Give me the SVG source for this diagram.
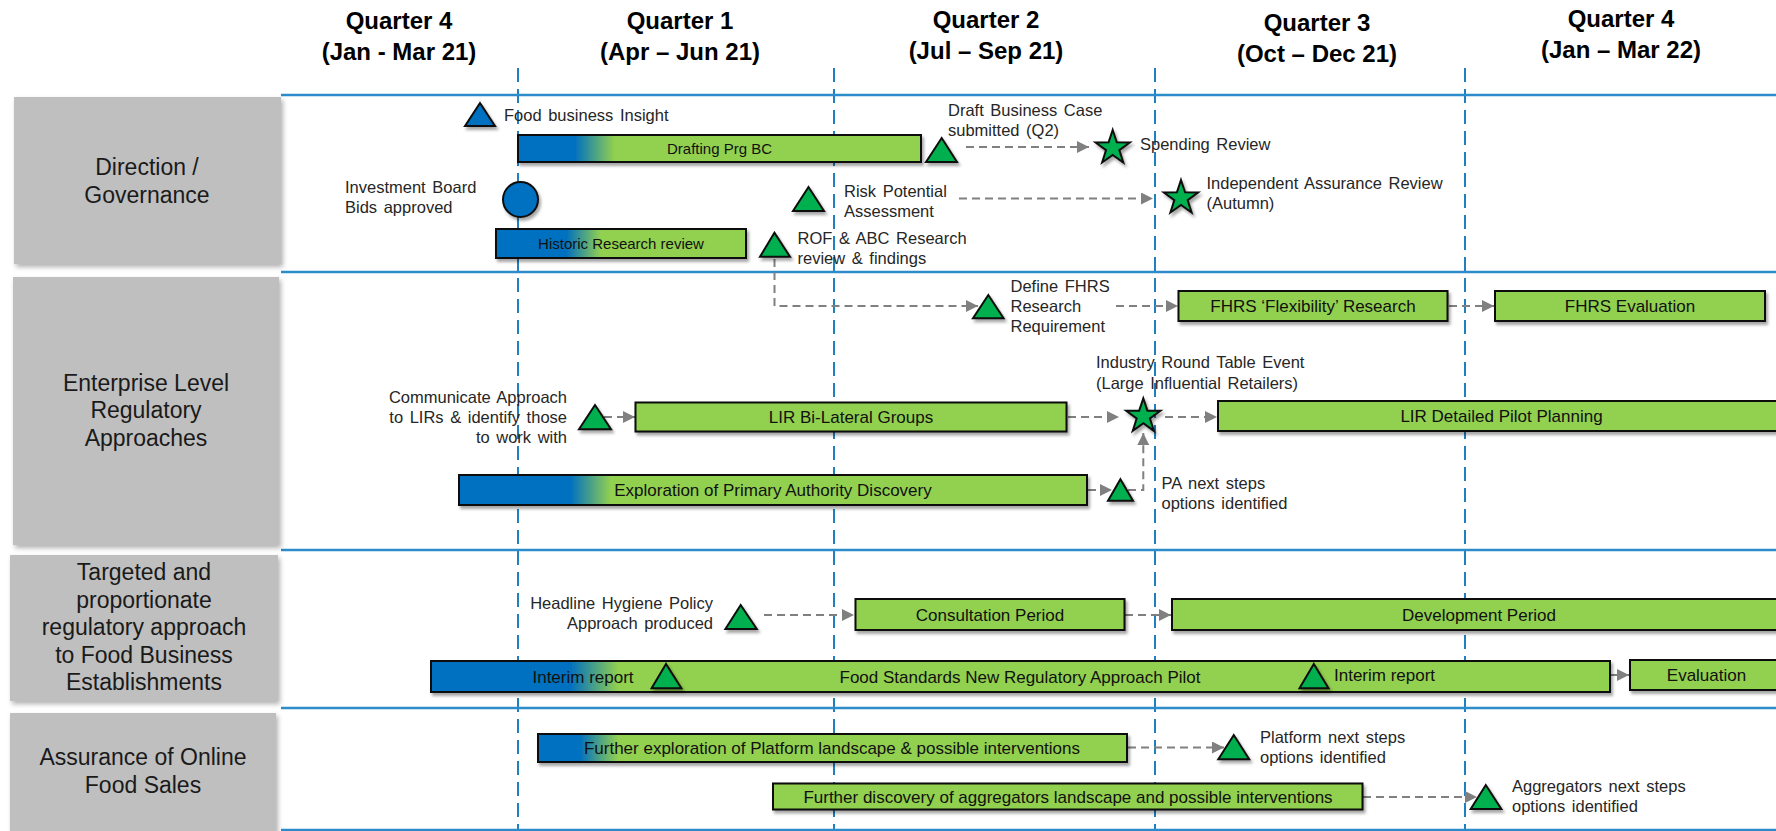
<svg xmlns="http://www.w3.org/2000/svg" width="1776" height="831" viewBox="0 0 1776 831">
<style>
text{font-family:"Liberation Sans",Arial,sans-serif}
.hdr{font-size:24px;font-weight:bold;text-anchor:middle;fill:#000}
.rowbox{fill:#BFBFBF;filter:url(#shb)}
.rowt{font-size:23px;text-anchor:middle;fill:#1a1a1a}
.bar{stroke:#0d0d0d;stroke-width:2;filter:url(#sh)}
.g{fill:#92D050}
.bt{font-size:17px;text-anchor:middle;fill:#111}
.bt15{font-size:15px;text-anchor:middle;fill:#111}
.tri{fill:#00B050;stroke:#0d0d0d;stroke-width:2;filter:url(#sh)}
.btri{fill:#0070C0;stroke:#0d0d0d;stroke-width:2;filter:url(#sh)}
.lbl{font-size:16.5px;fill:#262626;word-spacing:2px}
.lblr{font-size:16.5px;fill:#262626;word-spacing:2px;text-anchor:end}
.conn{fill:none;stroke:#808080;stroke-width:2;stroke-dasharray:8 5;marker-end:url(#arr)}
.vline{stroke:#1f7fc0;stroke-width:2;stroke-dasharray:14 7}
.hline{stroke:#2c8bc9;stroke-width:2.5}
</style>
<defs>
<filter id="sh" x="-10%" y="-20%" width="130%" height="160%"><feDropShadow dx="2" dy="3" stdDeviation="1.5" flood-color="#000" flood-opacity="0.35"/></filter>
<filter id="shb" x="-10%" y="-10%" width="130%" height="130%"><feDropShadow dx="2" dy="3" stdDeviation="2.5" flood-color="#000" flood-opacity="0.3"/></filter>
<marker id="arr" markerUnits="userSpaceOnUse" markerWidth="12" markerHeight="12" refX="12" refY="6" orient="auto" viewBox="0 0 12 12"><path d="M0,0 L12,6 L0,12 z" fill="#808080"/></marker>
<path id="star" d="M0,-18 L4.11,-5.66 L17.12,-5.56 L6.66,2.16 L10.58,14.56 L0,7 L-10.58,14.56 L-6.66,2.16 L-17.12,-5.56 L-4.11,-5.66 Z"/>
<linearGradient id="gDraft"><stop offset="0" stop-color="#0070C0"/><stop offset="0.14" stop-color="#0070C0"/><stop offset="0.24" stop-color="#92D050"/><stop offset="1" stop-color="#92D050"/></linearGradient>
<linearGradient id="gHist"><stop offset="0" stop-color="#0070C0"/><stop offset="0.28" stop-color="#0070C0"/><stop offset="0.42" stop-color="#92D050"/><stop offset="1" stop-color="#92D050"/></linearGradient>
<linearGradient id="gExpl"><stop offset="0" stop-color="#0070C0"/><stop offset="0.177" stop-color="#0070C0"/><stop offset="0.242" stop-color="#92D050"/><stop offset="1" stop-color="#92D050"/></linearGradient>
<linearGradient id="gPilot"><stop offset="0" stop-color="#0070C0"/><stop offset="0.118" stop-color="#0070C0"/><stop offset="0.159" stop-color="#92D050"/><stop offset="1" stop-color="#92D050"/></linearGradient>
<linearGradient id="gPlat"><stop offset="0" stop-color="#0070C0"/><stop offset="0.071" stop-color="#0070C0"/><stop offset="0.136" stop-color="#92D050"/><stop offset="1" stop-color="#92D050"/></linearGradient>
</defs>
<rect width="1776" height="831" fill="#fff"/>

<g id="headers">
<text class="hdr" x="399" y="29">Quarter 4</text><text class="hdr" x="399" y="60">(Jan - Mar 21)</text>
<text class="hdr" x="680" y="29">Quarter 1</text><text class="hdr" x="680" y="60">(Apr – Jun 21)</text>
<text class="hdr" x="986" y="28">Quarter 2</text><text class="hdr" x="986" y="59">(Jul – Sep 21)</text>
<text class="hdr" x="1317" y="31">Quarter 3</text><text class="hdr" x="1317" y="62">(Oct – Dec 21)</text>
<text class="hdr" x="1621" y="27">Quarter 4</text><text class="hdr" x="1621" y="58">(Jan – Mar 22)</text>
</g>

<g id="grid">
<line class="vline" x1="518" y1="68" x2="518" y2="831"/>
<line class="vline" x1="834" y1="68" x2="834" y2="831"/>
<line class="vline" x1="1155" y1="68" x2="1155" y2="831"/>
<line class="vline" x1="1465" y1="68" x2="1465" y2="831"/>
<line class="hline" x1="281" y1="95" x2="1776" y2="95"/>
<line class="hline" x1="281" y1="272" x2="1776" y2="272"/>
<line class="hline" x1="281" y1="550" x2="1776" y2="550"/>
<line class="hline" x1="281" y1="708" x2="1776" y2="708"/>
<line class="hline" x1="281" y1="830" x2="1776" y2="830"/>
</g>

<g id="row-direction">
<rect class="rowbox" x="14" y="97" width="267" height="167"/>
<text class="rowt" x="147" y="175">Direction /</text>
<text class="rowt" x="147" y="203">Governance</text>
</g>
<g id="row-enterprise">
<rect class="rowbox" x="13" y="277" width="266" height="268"/>
<text class="rowt" x="146" y="391">Enterprise Level</text>
<text class="rowt" x="146" y="418">Regulatory</text>
<text class="rowt" x="146" y="446">Approaches</text>
</g>
<g id="row-targeted">
<rect class="rowbox" x="10" y="555" width="268" height="146"/>
<text class="rowt" x="144" y="580">Targeted and</text>
<text class="rowt" x="144" y="608">proportionate</text>
<text class="rowt" x="144" y="635">regulatory approach</text>
<text class="rowt" x="144" y="663">to Food Business</text>
<text class="rowt" x="144" y="690">Establishments</text>
</g>
<g id="row-online">
<rect class="rowbox" x="10" y="713" width="266" height="125"/>
<text class="rowt" x="143" y="765">Assurance of Online</text>
<text class="rowt" x="143" y="793">Food Sales</text>
</g>

<g id="connectors">
<path class="conn" d="M966,147 H1089"/>
<path class="conn" d="M959,198.5 H1153"/>
<path class="conn" d="M774.5,259 V306 H978"/>
<path class="conn" d="M1116,306 H1178"/>
<path class="conn" d="M1449,306 H1494"/>
<path class="conn" d="M604,417 H635"/>
<path class="conn" d="M1068,417 H1119"/>
<path class="conn" d="M1165,417 H1217"/>
<path class="conn" d="M1088,490 H1112"/>
<path class="conn" d="M1128,490 H1143.3 V433"/>
<path class="conn" d="M764,615 H854"/>
<path class="conn" d="M1125,615 H1171"/>
<path class="conn" d="M1611,675 H1629"/>
<path class="conn" d="M1128,747.5 H1224"/>
<path class="conn" d="M1363,797 H1477"/>
</g>

<g id="food-business-insight">
<polygon class="btri" points="480,103 465,126 495,126"/>
<text class="lbl" x="504" y="121">Food business Insight</text>
</g>
<g id="drafting-prg-bc">
<rect class="bar" fill="url(#gDraft)" x="518" y="135" width="403" height="27"/>
<text class="bt15" x="719.5" y="154">Drafting Prg BC</text>
</g>
<g id="draft-business-case">
<polygon class="tri" points="941.7,138 926,162 957,162"/>
<text class="lbl" x="948" y="116">Draft Business Case</text>
<text class="lbl" x="948" y="136">submitted (Q2)</text>
</g>
<g id="spending-review">
<use href="#star" x="1112.7" y="148" class="tri"/>
<text class="lbl" x="1140" y="150">Spending Review</text>
</g>
<g id="investment-board">
<circle cx="520.5" cy="199.5" r="17.5" fill="#0070C0" stroke="#0d0d0d" stroke-width="2" filter="url(#sh)"/>
<text class="lbl" x="345" y="193">Investment Board</text>
<text class="lbl" x="345" y="213">Bids approved</text>
</g>
<g id="risk-potential">
<polygon class="tri" points="808.5,187 793,211 824,211"/>
<text class="lbl" x="844" y="196.5">Risk Potential</text>
<text class="lbl" x="844" y="216.5">Assessment</text>
</g>
<g id="independent-assurance">
<use href="#star" x="1181" y="198" class="tri"/>
<text class="lbl" x="1206.5" y="189">Independent Assurance Review</text>
<text class="lbl" x="1206.5" y="209">(Autumn)</text>
</g>
<g id="historic-research">
<rect class="bar" fill="url(#gHist)" x="496" y="229" width="250" height="29"/>
<text class="bt15" x="621" y="249">Historic Research review</text>
</g>
<g id="rof-abc">
<polygon class="tri" points="774.4,232.7 760,256.7 790,256.7"/>
<text class="lbl" x="797.5" y="243.5">ROF &amp; ABC Research</text>
<text class="lbl" x="797.5" y="263.5">review &amp; findings</text>
</g>

<g id="define-fhrs">
<polygon class="tri" points="988.3,295 973,318.3 1003.6,318.3"/>
<text class="lbl" x="1010.5" y="292">Define FHRS</text>
<text class="lbl" x="1010.5" y="312">Research</text>
<text class="lbl" x="1010.5" y="332">Requirement</text>
</g>
<g id="fhrs-flexibility">
<rect class="bar g" x="1178.5" y="291" width="269" height="30"/>
<text class="bt" x="1313" y="312">FHRS ‘Flexibility’ Research</text>
</g>
<g id="fhrs-evaluation">
<rect class="bar g" x="1495" y="291" width="270" height="30"/>
<text class="bt" x="1630" y="312">FHRS Evaluation</text>
</g>
<g id="communicate-approach">
<polygon class="tri" points="595,405 579,429.3 611,429.3"/>
<text class="lblr" x="567" y="402.5">Communicate Approach</text>
<text class="lblr" x="567" y="422.5">to LIRs &amp; identify those</text>
<text class="lblr" x="567" y="442.5">to work with</text>
</g>
<g id="lir-bilateral">
<rect class="bar g" x="635.5" y="402.5" width="431" height="29"/>
<text class="bt" x="851" y="423">LIR Bi-Lateral Groups</text>
</g>
<g id="industry-round-table">
<use href="#star" x="1143.3" y="416.3" class="tri"/>
<text class="lbl" x="1096" y="368">Industry Round Table Event</text>
<text class="lbl" x="1096" y="388.5">(Large Influential Retailers)</text>
</g>
<g id="lir-detailed">
<rect class="bar g" x="1218" y="401" width="570" height="30"/>
<text class="bt" x="1501.5" y="422">LIR Detailed Pilot Planning</text>
</g>
<g id="exploration-pa">
<rect class="bar" fill="url(#gExpl)" x="459" y="475" width="628" height="30"/>
<text class="bt" x="773" y="496">Exploration of Primary Authority Discovery</text>
</g>
<g id="pa-next-steps">
<polygon class="tri" points="1120.4,479.3 1108,500.7 1133,500.7"/>
<text class="lbl" x="1161.5" y="489">PA next steps</text>
<text class="lbl" x="1161.5" y="509">options identified</text>
</g>

<g id="headline-hygiene">
<polygon class="tri" points="740.7,605 725.4,629 756.8,629"/>
<text class="lblr" x="713" y="609">Headline Hygiene Policy</text>
<text class="lblr" x="713" y="629">Approach produced</text>
</g>
<g id="consultation">
<rect class="bar g" x="855.5" y="599" width="269" height="31"/>
<text class="bt" x="990" y="620.5">Consultation Period</text>
</g>
<g id="development">
<rect class="bar g" x="1172" y="599" width="620" height="31"/>
<text class="bt" x="1479" y="620.5">Development Period</text>
</g>
<g id="pilot">
<rect class="bar" fill="url(#gPilot)" x="431" y="661" width="1179" height="31"/>
<text class="bt" x="583" y="682.5">Interim report</text>
<text class="bt" x="1020" y="682.5">Food Standards New Regulatory Approach Pilot</text>
<polygon class="tri" points="666,664 651.6,688.3 681.4,688.3"/>
<polygon class="tri" points="1313.8,664 1299.5,688.3 1328.5,688.3"/>
<text class="bt" x="1334" y="680.5" style="text-anchor:start">Interim report</text>
</g>
<g id="evaluation">
<rect class="bar g" x="1630" y="660" width="160" height="30"/>
<text class="bt" x="1706.5" y="681">Evaluation</text>
</g>

<g id="platform-exploration">
<rect class="bar" fill="url(#gPlat)" x="538" y="734" width="589" height="28"/>
<text class="bt" x="832" y="754">Further exploration of Platform landscape &amp; possible interventions</text>
</g>
<g id="platform-next-steps">
<polygon class="tri" points="1233.8,735 1218.3,759.3 1249.2,759.3"/>
<text class="lbl" x="1260" y="742.5">Platform next steps</text>
<text class="lbl" x="1260" y="762.5">options identified</text>
</g>
<g id="aggregators-discovery">
<rect class="bar g" x="773" y="783.5" width="589.5" height="26"/>
<text class="bt" x="1068" y="803">Further discovery of aggregators landscape and possible interventions</text>
</g>
<g id="aggregators-next-steps">
<polygon class="tri" points="1485.8,785 1470.7,809 1501.3,809"/>
<text class="lbl" x="1512" y="792">Aggregators next steps</text>
<text class="lbl" x="1512" y="812">options identified</text>
</g>
</svg>
